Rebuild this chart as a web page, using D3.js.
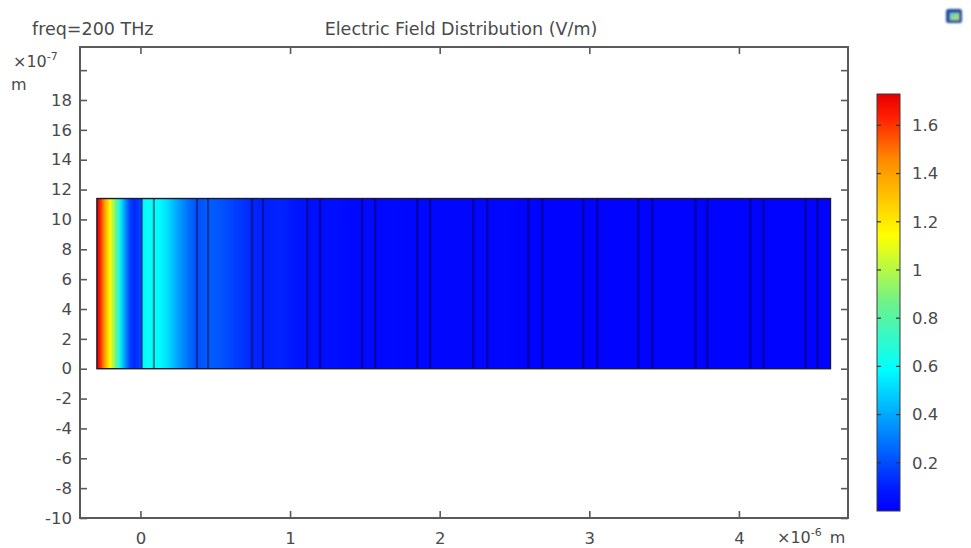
<!DOCTYPE html>
<html>
<head>
<meta charset="utf-8">
<script src="https://cdn.jsdelivr.net/npm/d3@7"></script>
<style>
  html, body { margin: 0; padding: 0; background: #fff; }
  svg { display: block; font-family: "DejaVu Sans", sans-serif; }
</style>
</head>
<body>
<svg id="chart" width="971" height="548"></svg>
<script>
// Field magnitude |E| (V/m) sampled along the propagation axis (x in µm).
// Repeated x values mark a jump at a material interface.
const fieldX = [-0.291, -0.278, -0.264, -0.244, -0.224, -0.204, -0.184, -0.164, -0.144, -0.124,
                -0.097, -0.070, -0.043, -0.017, 0.010, 0.010, 0.050, 0.090, 0.130, 0.177,
                0.231, 0.284, 0.331, 0.378, 0.411, 0.452, 0.532, 0.632, 0.746, 0.819,
                0.933, 1.034, 1.114, 1.201, 1.300, 1.400, 1.482, 1.569, 1.700, 1.850,
                1.936, 2.080, 2.224, 2.318, 2.450, 2.592, 2.686, 2.820, 2.960, 3.053,
                3.190, 3.328, 3.421, 3.560, 3.709, 3.789, 3.930, 4.077, 4.164, 4.300,
                4.445, 4.525, 4.612];
const fieldE = [1.73, 1.68, 1.60, 1.45, 1.30, 1.15, 1.00, 0.85, 0.68, 0.50,
                0.32, 0.18, 0.12, 0.15, 0.22, 0.58, 0.61, 0.60, 0.58, 0.52,
                0.42, 0.33, 0.26, 0.21, 0.22, 0.24, 0.22, 0.17, 0.12, 0.10,
                0.11, 0.08, 0.06, 0.05, 0.05, 0.03, 0.03, 0.03, 0.03, 0.02,
                0.02, 0.02, 0.02, 0.02, 0.02, 0.01, 0.01, 0.01, 0.01, 0.01,
                0.01, 0.01, 0.01, 0.01, 0.01, 0.01, 0.01, 0.01, 0.01, 0.01,
                0.01, 0.01, 0.01];

// Layer interfaces of the multilayer stack (µm) and the slab extent (x in µm, y in 1e-7 m).
const layerEdges = [0.010, 0.090, 0.378, 0.452, 0.746, 0.819, 1.114, 1.201, 1.482, 1.569,
                    1.850, 1.936, 2.224, 2.318, 2.592, 2.686, 2.960, 3.053, 3.328, 3.421,
                    3.709, 3.789, 4.077, 4.164, 4.445, 4.525];
const slabX = [-0.291, 4.612];
const slabY = [0, 11.4];

// Axis ticks
const xTicks = [0, 1, 2, 3, 4];
const yTicks = [-10, -8, -6, -4, -2, 0, 2, 4, 6, 8, 10, 12, 14, 16, 18, 20];
const yLabeled = [-10, -8, -6, -4, -2, 0, 2, 4, 6, 8, 10, 12, 14, 16, 18];
const cbTicks = [0.2, 0.4, 0.6, 0.8, 1, 1.2, 1.4, 1.6];
const cbRange = [0, 1.73];

// Rainbow colour table (fraction of range -> colour)
const rainbowStops = [0, 0.05, 0.34, 0.5, 0.66, 0.84, 0.95, 1];
const rainbowColors = ["#0000ff", "#0018ff", "#00ffff", "#6ef28a", "#ffff00", "#ff8c00", "#ff1a00", "#e60000"];

const svg = d3.select("#chart");
const axisColor = "#5a5a5a";
const textColor = "#4a4a4a";
const labelSize = "16.5px";

const frame = {left: 80, right: 848, top: 47, bottom: 518};
const x = d3.scaleLinear().domain([-0.404, 4.729]).range([frame.left, frame.right]);
const y = d3.scaleLinear().domain([-10, 21.55]).range([frame.bottom, frame.top]);

const colorOf = d3.scaleLinear()
  .domain(rainbowStops.map(f => cbRange[0] + f * (cbRange[1] - cbRange[0])))
  .range(rainbowColors)
  .interpolate(d3.interpolateRgb)
  .clamp(true);

const defs = svg.append("defs");

// Horizontal gradient carrying the field profile across the slab
const slabW = x(slabX[1]) - x(slabX[0]);
const fieldGrad = defs.append("linearGradient")
  .attr("id", "fieldGrad")
  .attr("gradientUnits", "userSpaceOnUse")
  .attr("x1", x(slabX[0])).attr("x2", x(slabX[1]))
  .attr("y1", 0).attr("y2", 0);
fieldX.forEach((xv, i) => {
  fieldGrad.append("stop")
    .attr("offset", (x(xv) - x(slabX[0])) / slabW)
    .attr("stop-color", colorOf(fieldE[i]));
});

// Vertical gradient for the colour legend
const cb = {left: 877, right: 900, top: 94, bottom: 511};
const cbScale = d3.scaleLinear().domain(cbRange).range([cb.bottom, cb.top]);
const cbGrad = defs.append("linearGradient")
  .attr("id", "cbGrad")
  .attr("x1", 0).attr("x2", 0).attr("y1", 1).attr("y2", 0);
rainbowStops.forEach((f, i) => {
  cbGrad.append("stop").attr("offset", f).attr("stop-color", rainbowColors[i]);
});

// Slab with the field distribution
svg.append("rect")
  .attr("x", x(slabX[0]))
  .attr("y", y(slabY[1]))
  .attr("width", slabW)
  .attr("height", y(slabY[0]) - y(slabY[1]))
  .attr("fill", "url(#fieldGrad)");

// Interfaces between layers
svg.append("g")
  .selectAll("line")
  .data(layerEdges)
  .join("line")
  .attr("x1", d => x(d)).attr("x2", d => x(d))
  .attr("y1", y(slabY[1])).attr("y2", y(slabY[0]))
  .attr("stroke", "#000030")
  .attr("stroke-opacity", 0.45)
  .attr("stroke-width", 2.2);

svg.append("rect")
  .attr("x", x(slabX[0]))
  .attr("y", y(slabY[1]))
  .attr("width", slabW)
  .attr("height", y(slabY[0]) - y(slabY[1]))
  .attr("fill", "none")
  .attr("stroke", "#1a1a2e")
  .attr("stroke-width", 1.4);

// Axes: inward ticks on all four sides
const tickLen = 7;
function styleAxis(g) {
  g.select(".domain").remove();
  g.selectAll(".tick line").attr("stroke", axisColor).attr("stroke-width", 1.6);
  g.selectAll(".tick text").attr("fill", textColor).style("font-size", labelSize)
    .style("font-family", "'DejaVu Sans', sans-serif");
}

svg.append("g")
  .attr("transform", `translate(${frame.left},0)`)
  .call(d3.axisLeft(y).tickValues(yTicks).tickSize(-tickLen).tickPadding(8)
    .tickFormat(d => yLabeled.includes(d) ? String(d) : ""))
  .call(styleAxis);

svg.append("g")
  .attr("transform", `translate(${frame.right},0)`)
  .call(d3.axisRight(y).tickValues(yTicks).tickSize(-tickLen).tickFormat(""))
  .call(styleAxis);

svg.append("g")
  .attr("transform", `translate(0,${frame.bottom})`)
  .call(d3.axisBottom(x).tickValues(xTicks).tickSize(-tickLen).tickPadding(14).tickFormat(d3.format("d")))
  .call(styleAxis);

svg.append("g")
  .attr("transform", `translate(0,${frame.top})`)
  .call(d3.axisTop(x).tickValues(xTicks).tickSize(-tickLen).tickFormat(""))
  .call(styleAxis);

// Plot frame
svg.append("rect")
  .attr("x", frame.left).attr("y", frame.top)
  .attr("width", frame.right - frame.left)
  .attr("height", frame.bottom - frame.top)
  .attr("fill", "none")
  .attr("stroke", axisColor)
  .attr("stroke-width", 2);

// Axis unit labels
const yUnit = svg.append("text").attr("x", 13).attr("y", 67)
  .attr("fill", textColor).style("font-size", "16px");
yUnit.append("tspan").text("×10");
yUnit.append("tspan").attr("dy", -7).style("font-size", "11px").text("-7");
svg.append("text").attr("x", 11).attr("y", 90)
  .attr("fill", textColor).style("font-size", "16px").text("m");

const xUnit = svg.append("text").attr("x", 777).attr("y", 543)
  .attr("fill", textColor).style("font-size", "16px");
xUnit.append("tspan").text("×10");
xUnit.append("tspan").attr("dy", -7).style("font-size", "11px").text("-6");
xUnit.append("tspan").attr("dy", 7).attr("dx", 8).text("m");

// Titles
svg.append("text").attr("x", 32).attr("y", 35)
  .attr("fill", textColor).style("font-size", "17.5px").text("freq=200 THz");
svg.append("text").attr("x", 461).attr("y", 35).attr("text-anchor", "middle")
  .attr("fill", textColor).style("font-size", "17.5px").text("Electric Field Distribution (V/m)");

// Colour legend
svg.append("rect")
  .attr("x", cb.left).attr("y", cb.top)
  .attr("width", cb.right - cb.left).attr("height", cb.bottom - cb.top)
  .attr("fill", "url(#cbGrad)")
  .attr("stroke", "#3a3a3a").attr("stroke-width", 1);

const cbAxis = svg.append("g");
cbAxis.selectAll("line.l").data(cbTicks).join("line").attr("class", "l")
  .attr("x1", cb.left).attr("x2", cb.left + 4)
  .attr("y1", d => cbScale(d)).attr("y2", d => cbScale(d))
  .attr("stroke", "#333").attr("stroke-width", 1.2);
cbAxis.selectAll("line.r").data(cbTicks).join("line").attr("class", "r")
  .attr("x1", cb.right - 4).attr("x2", cb.right)
  .attr("y1", d => cbScale(d)).attr("y2", d => cbScale(d))
  .attr("stroke", "#333").attr("stroke-width", 1.2);
cbAxis.selectAll("text").data(cbTicks).join("text")
  .attr("x", 912).attr("y", d => cbScale(d)).attr("dy", "0.35em")
  .attr("fill", textColor).style("font-size", labelSize)
  .text(d => d3.format("~g")(d));

// Small view-toolbar icon in the corner
const icon = svg.append("g").style("filter", "blur(1px)");
const iconGrad = defs.append("linearGradient").attr("id", "iconGrad")
  .attr("x1", 0).attr("x2", 1).attr("y1", 0).attr("y2", 1);
iconGrad.append("stop").attr("offset", 0).attr("stop-color", "#59c7d6");
iconGrad.append("stop").attr("offset", 1).attr("stop-color", "#c9e36b");
icon.append("rect").attr("x", 946).attr("y", 9).attr("width", 16).attr("height", 14)
  .attr("rx", 2.5).attr("fill", "#24479a");
icon.append("rect").attr("x", 949.5).attr("y", 12.5).attr("width", 10).attr("height", 8)
  .attr("fill", "url(#iconGrad)");
</script>
</body>
</html>
